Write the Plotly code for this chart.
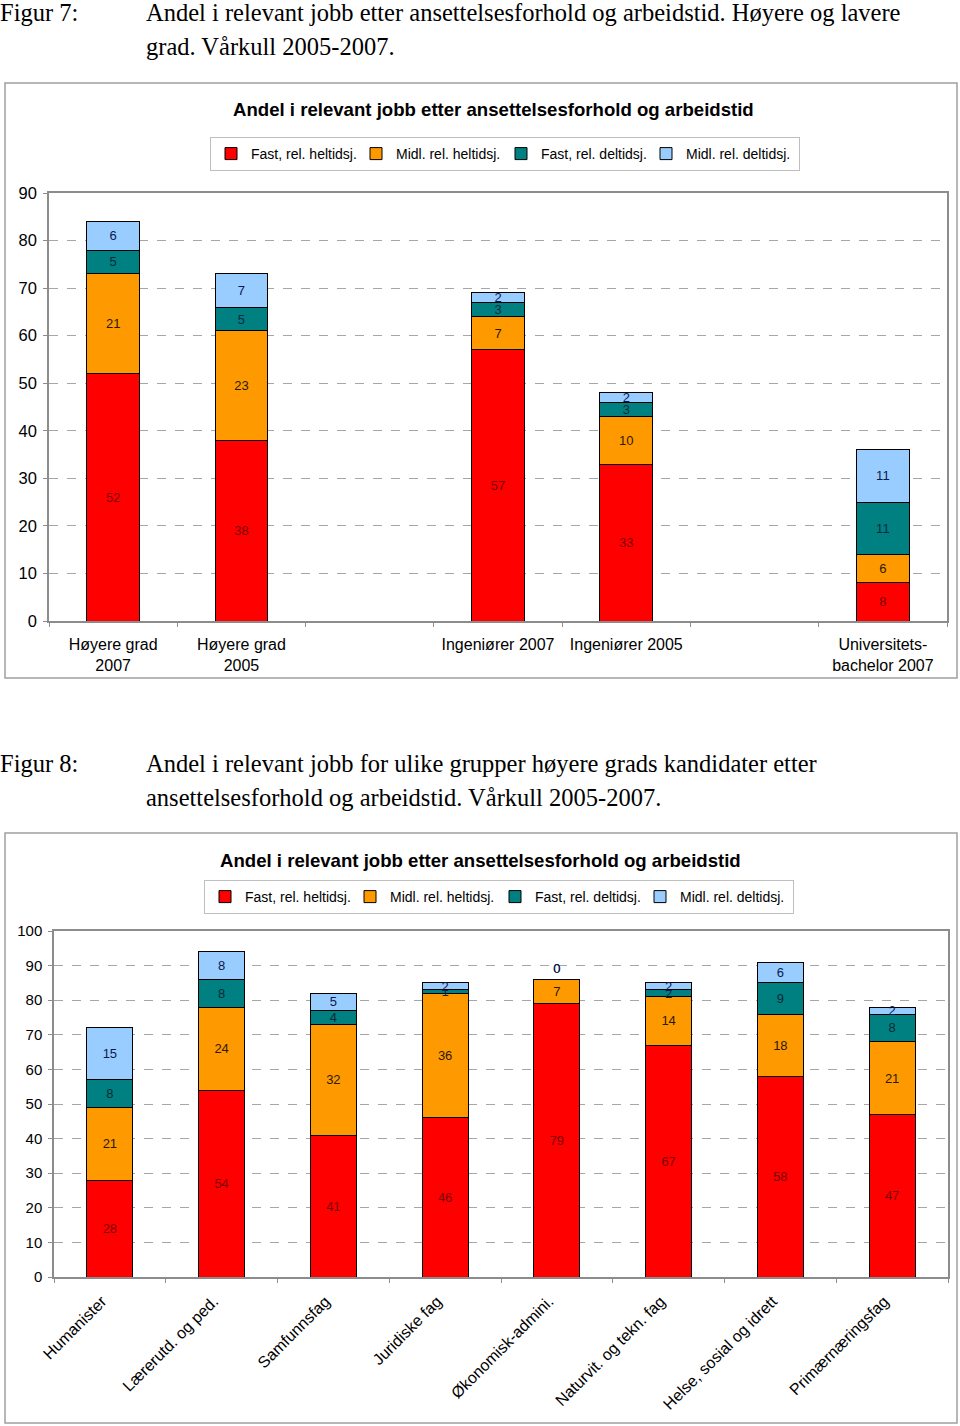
import plotly.graph_objects as go

# ---------------- Data ----------------
series_names = ["Fast, rel. heltidsj.", "Midl. rel. heltidsj.", "Fast, rel. deltidsj.", "Midl. rel. deltidsj."]
series_colors = ["#FF0000", "#FF9900", "#008080", "#99CCFF"]
label_colors = ["#7a0000", "#2a1a00", "#0a2a3a", "#0a1a50"]

# Figure 7
cats7 = ["Høyere grad<br>2007", "Høyere grad<br>2005", " ", "Ingeniører 2007", "Ingeniører 2005", "  ",
         "Universitets-<br>bachelor 2007"]
fast_hel7 = [52, 38, None, 57, 33, None, 8]
midl_hel7 = [21, 23, None, 7, 10, None, 6]
fast_del7 = [5, 5, None, 3, 3, None, 11]
midl_del7 = [6, 7, None, 2, 2, None, 11]
yticks7 = [0, 10, 20, 30, 40, 50, 60, 70, 80, 90]

# Figure 8
cats8 = ["Humanister", "Lærerutd. og ped.", "Samfunnsfag", "Juridiske fag", "Økonomisk-admini.",
         "Naturvit. og tekn. fag", "Helse, sosial og idrett", "Primærnæringsfag"]
fast_hel8 = [28, 54, 41, 46, 79, 67, 58, 47]
midl_hel8 = [21, 24, 32, 36, 7, 14, 18, 21]
fast_del8 = [8, 8, 4, 1, 0, 2, 9, 8]
midl_del8 = [15, 8, 5, 2, 0, 2, 6, 2]
yticks8 = [0, 10, 20, 30, 40, 50, 60, 70, 80, 90, 100]

W, H = 960, 1426
FONT = "Liberation Sans, Arial, sans-serif"
SERIF = "Liberation Serif, Times New Roman, serif"
legend_widths = [100, 100, 100, 108]


def px(x):
    return x / W


def py(y):
    return 1 - y / H


def positions(vals):
    return ["outside" if v == 0 else "inside" for v in vals]


fig = go.Figure()

for i, vals in enumerate([fast_hel7, midl_hel7, fast_del7, midl_del7]):
    fig.add_trace(go.Bar(
        x=cats7, y=vals, name=series_names[i],
        marker=dict(color=series_colors[i], line=dict(color="black", width=1)),
        text=[("" if v is None else str(v)) for v in vals],
        textposition="inside", insidetextanchor="middle", textangle=0,
        textfont=dict(family=FONT, size=13, color=label_colors[i]),
        xaxis="x", yaxis="y", legend="legend", legendwidth=legend_widths[i], hoverinfo="skip",
    ))

for i, vals in enumerate([fast_hel8, midl_hel8, fast_del8, midl_del8]):
    fig.add_trace(go.Bar(
        x=cats8, y=vals, name=series_names[i],
        marker=dict(color=series_colors[i], line=dict(color="black", width=1)),
        text=[str(v) for v in vals],
        textposition=positions(vals), insidetextanchor="middle", textangle=0,
        textfont=dict(family=FONT, size=13, color=label_colors[i]),
        cliponaxis=False,
        xaxis="x2", yaxis="y2", legend="legend2", legendwidth=legend_widths[i], hoverinfo="skip",
    ))

axis_common = dict(showline=True, mirror=True, linecolor="#8c8c8c", linewidth=1.5, zeroline=False,
                   automargin=False)

fig.update_layout(
    width=W, height=H,
    margin=dict(l=0, r=0, t=0, b=0, autoexpand=False),
    paper_bgcolor="white", plot_bgcolor="white",
    font=dict(family=FONT, color="black"),
    barmode="stack", bargap=0.59,
    uniformtext=dict(mode="show", minsize=13),
    xaxis=dict(domain=[px(49), px(947)], anchor="y", type="category",
               categoryorder="array", categoryarray=cats7,
               ticks="outside", tickson="boundaries", ticklen=4, tickcolor="#8c8c8c",
               ticklabelstandoff=8,
               tickfont=dict(size=16, color="black"), showgrid=False, **axis_common),
    yaxis=dict(domain=[py(621), py(193)], anchor="x", range=[0, 90], tickvals=yticks7,
               ticks="outside", ticklen=4, tickcolor="#8c8c8c", ticklabelstandoff=3,
               tickfont=dict(size=16.5, color="black"),
               showgrid=True, gridcolor="#a6a6a6", griddash="dash", gridwidth=1, **axis_common),
    xaxis2=dict(domain=[px(54), px(948)], anchor="y2", type="category",
                categoryorder="array", categoryarray=cats8,
                ticks="outside", tickson="boundaries", ticklen=4, tickcolor="#8c8c8c",
                tickangle=-45, ticklabelshift=-8, ticklabelstandoff=7,
                tickfont=dict(size=16, color="black"), showgrid=False, **axis_common),
    yaxis2=dict(domain=[py(1277), py(931)], anchor="x2", range=[0, 100], tickvals=yticks8,
                ticks="outside", ticklen=4, tickcolor="#8c8c8c", ticklabelstandoff=3,
                tickfont=dict(size=15, color="black"),
                showgrid=True, gridcolor="#a6a6a6", griddash="dash", gridwidth=1, **axis_common),
    legend=dict(orientation="h", x=px(505), xanchor="center", y=py(154), yanchor="middle",
                bordercolor="#bfbfbf", borderwidth=1, bgcolor="white", traceorder="normal",
                font=dict(size=14, color="black"), itemwidth=30, entrywidthmode="pixels"),
    legend2=dict(orientation="h", x=px(499), xanchor="center", y=py(897), yanchor="middle",
                 bordercolor="#bfbfbf", borderwidth=1, bgcolor="white", traceorder="normal",
                 font=dict(size=14, color="black"), itemwidth=30, entrywidthmode="pixels"),
    shapes=[
        dict(type="rect", xref="paper", yref="paper", x0=px(5), x1=px(957), y0=py(678), y1=py(83),
             line=dict(color="#a0a0a0", width=1.5), layer="below"),
        dict(type="rect", xref="paper", yref="paper", x0=px(5), x1=px(957), y0=py(1423), y1=py(833),
             line=dict(color="#a0a0a0", width=1.5), layer="below"),
    ],
)

CAP = 24.5
annotations = [
    dict(text="Figur 7:", x=px(-2), y=py(13), xanchor="left", yanchor="middle",
         font=dict(family=SERIF, size=CAP)),
    dict(text="Andel i relevant jobb etter ansettelsesforhold og arbeidstid. Høyere og lavere",
         x=px(144), y=py(13), xanchor="left", yanchor="middle", font=dict(family=SERIF, size=CAP)),
    dict(text="grad. Vårkull 2005-2007.", x=px(144), y=py(47), xanchor="left", yanchor="middle",
         font=dict(family=SERIF, size=CAP)),
    dict(text="<b>Andel i relevant jobb etter ansettelsesforhold og arbeidstid</b>", x=px(494), y=py(110),
         xanchor="center", yanchor="middle", font=dict(family=FONT, size=18.6)),
    dict(text="Figur 8:", x=px(-2), y=py(763), xanchor="left", yanchor="middle",
         font=dict(family=SERIF, size=CAP)),
    dict(text="Andel i relevant jobb for ulike grupper høyere grads kandidater etter",
         x=px(144), y=py(763), xanchor="left", yanchor="middle", font=dict(family=SERIF, size=CAP)),
    dict(text="ansettelsesforhold og arbeidstid. Vårkull 2005-2007.", x=px(144), y=py(797),
         xanchor="left", yanchor="middle", font=dict(family=SERIF, size=CAP)),
    dict(text="<b>Andel i relevant jobb etter ansettelsesforhold og arbeidstid</b>", x=px(480), y=py(860),
         xanchor="center", yanchor="middle", font=dict(family=FONT, size=18.6)),
]
for a in annotations:
    a.update(xref="paper", yref="paper", showarrow=False)
fig.update_layout(annotations=annotations)

fig.write_html("out.html")
